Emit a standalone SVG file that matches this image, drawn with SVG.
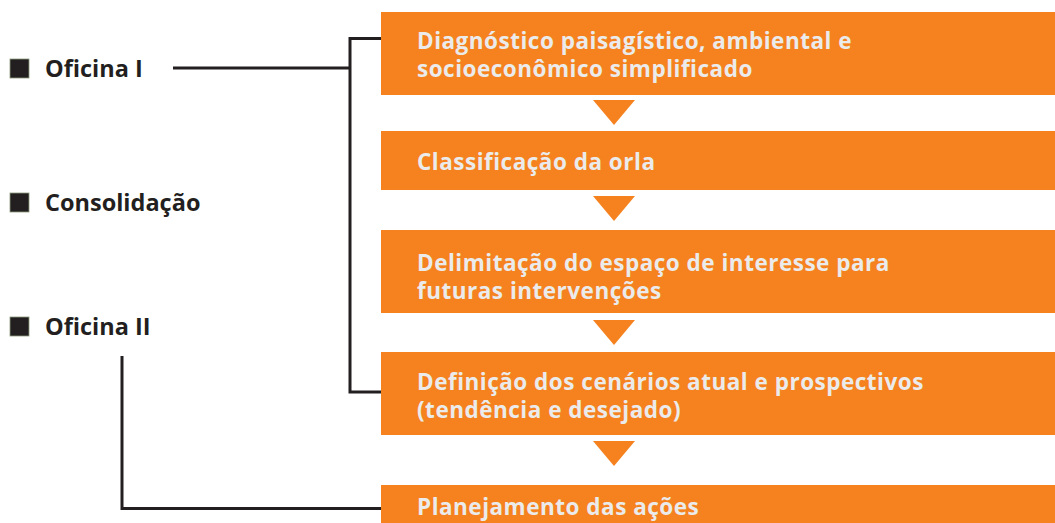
<svg xmlns="http://www.w3.org/2000/svg" width="1055" height="523" viewBox="0 0 1055 523">
<style>
.box{fill:#f5821f}
.tri{fill:#f5821f}
.bt{font-family:"Open Sans","Liberation Sans",sans-serif;font-weight:bold;font-size:22.5px;letter-spacing:0.5px;fill:#ebebeb}
.lt{font-family:"Open Sans","Liberation Sans",sans-serif;font-weight:bold;font-size:23.5px;fill:#231f20}
.sq{fill:#231f20;stroke:#8a9a7a;stroke-width:0.8}
.ln{fill:none;stroke:#231f20;stroke-width:3}
</style>
<rect width="1055" height="523" fill="#ffffff"/>
<g id="connectors">
<polyline class="ln" points="173,68 350,68"/>
<polyline class="ln" points="381,38.5 350,38.5 350,392 381,392"/>
<polyline class="ln" points="122,356 122,508.5 381,508.5"/>
</g>
<g id="label-oficina1"><rect class="sq" x="10" y="59" width="19" height="19"/><text class="lt" x="45" y="76.5">Oficina I</text></g>
<g id="label-consolidacao"><rect class="sq" x="10" y="193" width="19" height="19"/><text class="lt" x="45" y="210.5">Consolidação</text></g>
<g id="label-oficina2"><rect class="sq" x="10" y="317" width="19" height="19"/><text class="lt" x="45" y="334.5">Oficina II</text></g>
<g id="step1"><rect class="box" x="381" y="12" width="674" height="83"/><text class="bt" x="417" y="49">Diagnóstico paisagístico, ambiental e</text><text class="bt" x="417" y="77">socioeconômico simplificado</text></g>
<g id="arrow1"><polygon class="tri" points="593,100 635,100 614,125"/></g>
<g id="step2"><rect class="box" x="381" y="131" width="674" height="59"/><text class="bt" x="417" y="170">Classificação da orla</text></g>
<g id="arrow2"><polygon class="tri" points="593,196 635,196 614,221"/></g>
<g id="step3"><rect class="box" x="381" y="230" width="674" height="83"/><text class="bt" x="417" y="271">Delimitação do espaço de interesse para</text><text class="bt" x="417" y="299">futuras intervenções</text></g>
<g id="arrow3"><polygon class="tri" points="593,320 635,320 614,345"/></g>
<g id="step4"><rect class="box" x="381" y="352" width="674" height="83"/><text class="bt" x="417" y="390">Definição dos cenários atual e prospectivos</text><text class="bt" x="417" y="418">(tendência e desejado)</text></g>
<g id="arrow4"><polygon class="tri" points="593,441 635,441 614,466"/></g>
<g id="step5"><rect class="box" x="381" y="485" width="674" height="38"/><text class="bt" x="417" y="515">Planejamento das ações</text></g>
</svg>
